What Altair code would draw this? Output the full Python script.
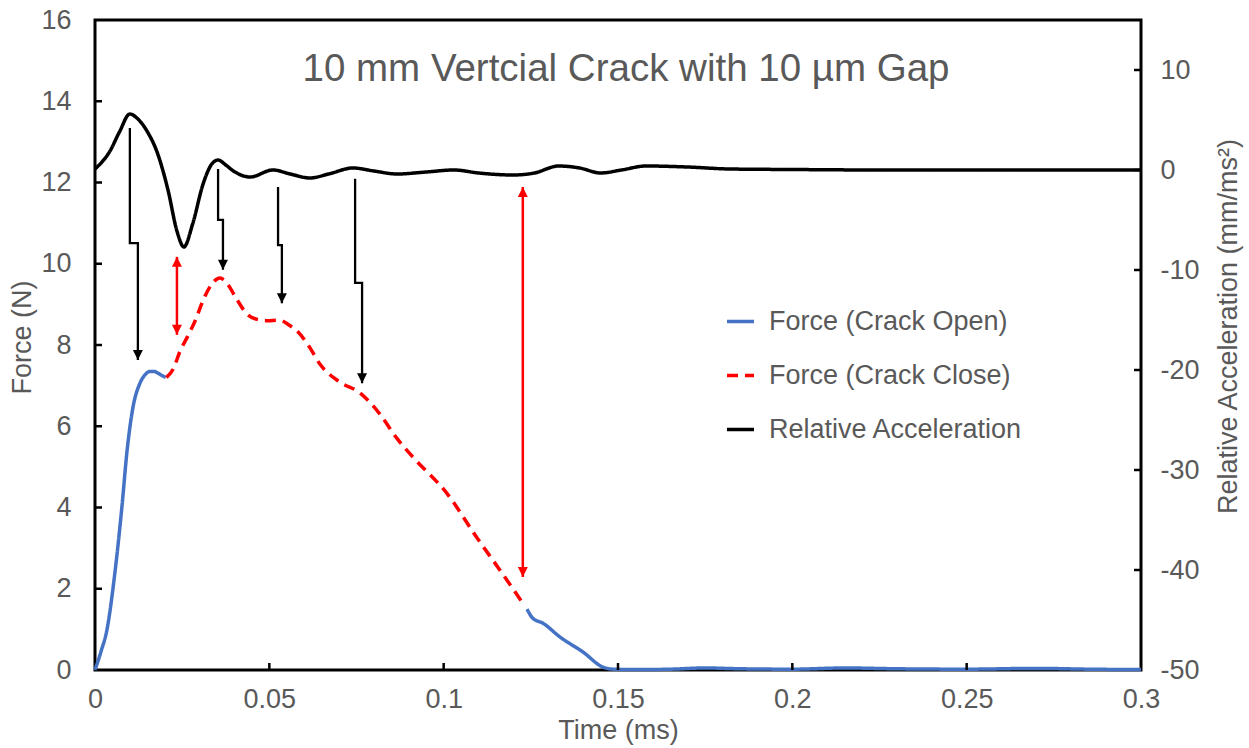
import altair as alt
import pandas as pd

# ---------------- data ----------------
open1_t = [0, 0.0017, 0.0034, 0.0057, 0.0077, 0.0092, 0.0109, 0.0129, 0.0145, 0.0158, 0.0170, 0.0180, 0.0192, 0.0203]
open1_f = [0, 0.45, 0.98, 2.39, 4.0, 5.4, 6.47, 7.06, 7.28, 7.35, 7.35, 7.31, 7.25, 7.2]

close_t = [0.0205, 0.0225, 0.0244, 0.0265, 0.0287, 0.031, 0.0335, 0.0358, 0.038, 0.0405, 0.0436,
           0.0465, 0.0493, 0.053, 0.0555, 0.058, 0.0615, 0.0645, 0.070, 0.076, 0.0817, 0.0866,
           0.0913, 0.101, 0.1095, 0.1162, 0.1225]
close_f = [7.2, 7.42, 7.85, 8.2, 8.59, 9.1, 9.5, 9.65, 9.5, 9.15, 8.76,
           8.63, 8.6, 8.61, 8.5, 8.34, 7.95, 7.53, 7.1, 6.82, 6.3, 5.7,
           5.23, 4.34, 3.26, 2.45, 1.67]

open2_t = [0.1239, 0.1255, 0.1285, 0.1334, 0.14, 0.1457, 0.1486, 0.155, 0.165, 0.175, 0.185,
           0.2, 0.215, 0.23, 0.25, 0.27, 0.285, 0.3]
open2_f = [1.5, 1.28, 1.15, 0.81, 0.44, 0.07, 0.02, 0.01, 0.02, 0.05, 0.03,
           0.02, 0.05, 0.03, 0.02, 0.04, 0.02, 0.01]

acc_t = [0, 0.0043, 0.007, 0.010, 0.012, 0.0149, 0.018, 0.021, 0.0235, 0.0255, 0.028, 0.031,
         0.0335, 0.0353, 0.0375, 0.0397, 0.0445, 0.051, 0.056, 0.0617, 0.067, 0.074, 0.080,
         0.0866, 0.095, 0.103, 0.110, 0.120, 0.126, 0.133, 0.139, 0.145, 0.151, 0.158, 0.17,
         0.182, 0.2, 0.225, 0.3]
acc_a = [0.1, 1.9, 3.8, 5.6, 5.2, 3.9, 1.6, -2.1, -6.1, -7.7, -5.4, -1.4,
         0.6, 1.0, 0.5, -0.1, -0.7, 0.0, -0.4, -0.8, -0.4, 0.2, -0.1,
         -0.4, -0.2, 0.0, -0.3, -0.5, -0.3, 0.4, 0.2, -0.3, 0.0, 0.4, 0.3,
         0.1, 0.05, 0.0, 0.0]

# black elbow arrows (force-axis units)
arrow_t_top = [0.0100, 0.0353, 0.0525, 0.0746]
arrow_t_tip = [0.0123, 0.0367, 0.0536, 0.0766]
arrow_f_top = [13.34, 12.33, 11.89, 12.09]
arrow_f_jog = [10.51, 11.08, 10.46, 9.53]
arrow_f_tip = [7.63, 9.85, 9.03, 7.06]

# red double arrows
red_t = [0.0235, 0.1227]
red_f_top = [10.17, 11.89]
red_f_bot = [8.25, 2.29]

series_names = ["Force (Crack Open)", "Force (Crack Close)", "Relative Acceleration"]
series_colors = ["#4472C4", "#FF0000", "#000000"]
series_dash = [[1, 0], [11, 7], [1, 0]]

force_ticks = [2, 4, 6, 8, 10, 12, 14]
time_ticks = [0.05, 0.1, 0.15, 0.2, 0.25]
acc_ticks = [-40, -30, -20, -10, 0, 10]

title_text = "10 mm Vertcial Crack with 10 µm Gap"

# ---------------- tables ----------------
df_force = pd.concat([
    pd.DataFrame({"t": open1_t, "F": open1_f, "series": series_names[0], "seg": "a"}),
    pd.DataFrame({"t": close_t, "F": close_f, "series": series_names[1], "seg": "b"}),
    pd.DataFrame({"t": open2_t, "F": open2_f, "series": series_names[0], "seg": "c"}),
], ignore_index=True)
df_acc = pd.DataFrame({"t": acc_t, "A": acc_a, "series": series_names[2]})

rows = []
for i in range(len(arrow_t_top)):
    rows += [
        {"id": i, "o": 0, "t": arrow_t_top[i], "F": arrow_f_top[i]},
        {"id": i, "o": 1, "t": arrow_t_top[i], "F": arrow_f_jog[i]},
        {"id": i, "o": 2, "t": arrow_t_tip[i], "F": arrow_f_jog[i]},
        {"id": i, "o": 3, "t": arrow_t_tip[i], "F": arrow_f_tip[i]},
    ]
df_arrows = pd.DataFrame(rows)
df_black_heads = pd.DataFrame({"t": arrow_t_tip, "F": arrow_f_tip})
df_red = pd.DataFrame({"t": red_t, "F": red_f_top, "F2": red_f_bot})
df_red_up = pd.DataFrame({"t": red_t, "F": red_f_top})
df_red_down = pd.DataFrame({"t": red_t, "F": red_f_bot})

FONT = "Liberation Sans"
GREY = "#595959"
W, H = 1046, 650
LBL = 27

x_enc = alt.X("t:Q", scale=alt.Scale(domain=[0, 0.3], nice=False, zero=False),
              axis=alt.Axis(values=[0, 0.05, 0.1, 0.15, 0.2, 0.25, 0.3], format="~g",
                            title="Time (ms)", labelPadding=16, titlePadding=5))
y_force = alt.Y("F:Q", scale=alt.Scale(domain=[0, 16], nice=False, zero=False),
                axis=alt.Axis(values=list(range(0, 17, 2)), title="Force (N)",
                              labelPadding=24, titleAngle=270, titleX=-73, titleY=317,
                              titleAlign="center", titleBaseline="middle"))
y_force2 = alt.Y2("F2:Q")
y_acc = alt.Y("A:Q", scale=alt.Scale(domain=[-50, 15], nice=False, zero=False),
              axis=alt.Axis(values=list(range(-50, 11, 10)), orient="right",
                            labelExpr="datum.value + ''",
                            title="Relative Acceleration (mm/ms²)", titleAngle=270,
                            titleX=87, titleY=306, titleAlign="center", titleBaseline="middle",
                            labelPadding=19))

legend_kw = dict(title=None, orient="none", legendX=630, legendY=286,
                 symbolType="stroke", symbolSize=729, symbolStrokeWidth=3.5,
                 labelFontSize=LBL, labelFont=FONT, labelColor=GREY, labelOffset=13,
                 rowPadding=25, padding=0, labelLimit=0)
color_enc = alt.Color("series:N", scale=alt.Scale(domain=series_names, range=series_colors),
                      legend=alt.Legend(**legend_kw))
dash_enc = alt.StrokeDash("series:N", scale=alt.Scale(domain=series_names, range=series_dash),
                          legend=alt.Legend(**legend_kw))

force_lines = alt.Chart(df_force).mark_line(strokeWidth=3.5, interpolate="monotone").encode(
    x=x_enc, y=y_force, color=color_enc, strokeDash=dash_enc, detail="seg:N", order="t:Q")

arrow_lines = alt.Chart(df_arrows).mark_line(color="black", strokeWidth=2.3, strokeCap="butt").encode(
    x=x_enc, y=y_force, detail="id:N", order="o:Q")

DOWN = "M-0.5,-1L0.5,-1L0,0Z"
UP = "M-0.5,1L0.5,1L0,0Z"
black_heads = alt.Chart(df_black_heads).mark_point(shape=DOWN, filled=True, size=400,
                                                   color="black", opacity=1).encode(x=x_enc, y=y_force)
red_lines = alt.Chart(df_red).mark_rule(color="#FF0000", strokeWidth=2.5).encode(
    x=x_enc, y=y_force, y2=y_force2)
red_up = alt.Chart(df_red_up).mark_point(shape=UP, filled=True, size=400, color="#FF0000",
                                         opacity=1).encode(x=x_enc, y=y_force)
red_down = alt.Chart(df_red_down).mark_point(shape=DOWN, filled=True, size=400, color="#FF0000",
                                             opacity=1).encode(x=x_enc, y=y_force)

left_ticks = alt.Chart(pd.DataFrame({"F": force_ticks})).mark_rule(color="black", strokeWidth=2.5).encode(
    y=y_force, x=alt.value(0), x2=alt.value(7))
bottom_ticks = alt.Chart(pd.DataFrame({"t": time_ticks})).mark_rule(color="black", strokeWidth=2.5).encode(
    x=x_enc, y=alt.value(H - 7), y2=alt.value(H))

title_mark = alt.Chart(pd.DataFrame({"label": [title_text]})).mark_text(
    font=FONT, fontSize=38.5, color=GREY, align="center", baseline="middle").encode(
    text="label:N", x=alt.value(531), y=alt.value(49))

force_group = alt.layer(force_lines, arrow_lines, black_heads, red_lines, red_up, red_down,
                        left_ticks, bottom_ticks, title_mark)

acc_line = alt.Chart(df_acc).mark_line(strokeWidth=3.5, interpolate="monotone").encode(
    x=x_enc, y=y_acc, color=color_enc, strokeDash=dash_enc, order="t:Q")
right_ticks = alt.Chart(pd.DataFrame({"A": acc_ticks})).mark_rule(color="black", strokeWidth=2.5).encode(
    y=y_acc, x=alt.value(W - 7), x2=alt.value(W))
acc_group = alt.layer(acc_line, right_ticks)

chart = alt.layer(force_group, acc_group).resolve_scale(y="independent").properties(
    width=W, height=H,
    padding={"left": 95, "top": 20, "right": 108, "bottom": 78},
    autosize=alt.AutoSizeParams(type="none"),
    background="white",
).configure_view(stroke="black", strokeWidth=3).configure_axis(
    grid=False, domain=False, ticks=False, tickSize=0, labelFlush=False,
    labelFont=FONT, labelFontSize=LBL, labelColor=GREY,
    titleFont=FONT, titleFontSize=27, titleColor=GREY, titleFontWeight="normal",
)

chart.save("out.html", embed_options={"renderer": "svg", "actions": False})
